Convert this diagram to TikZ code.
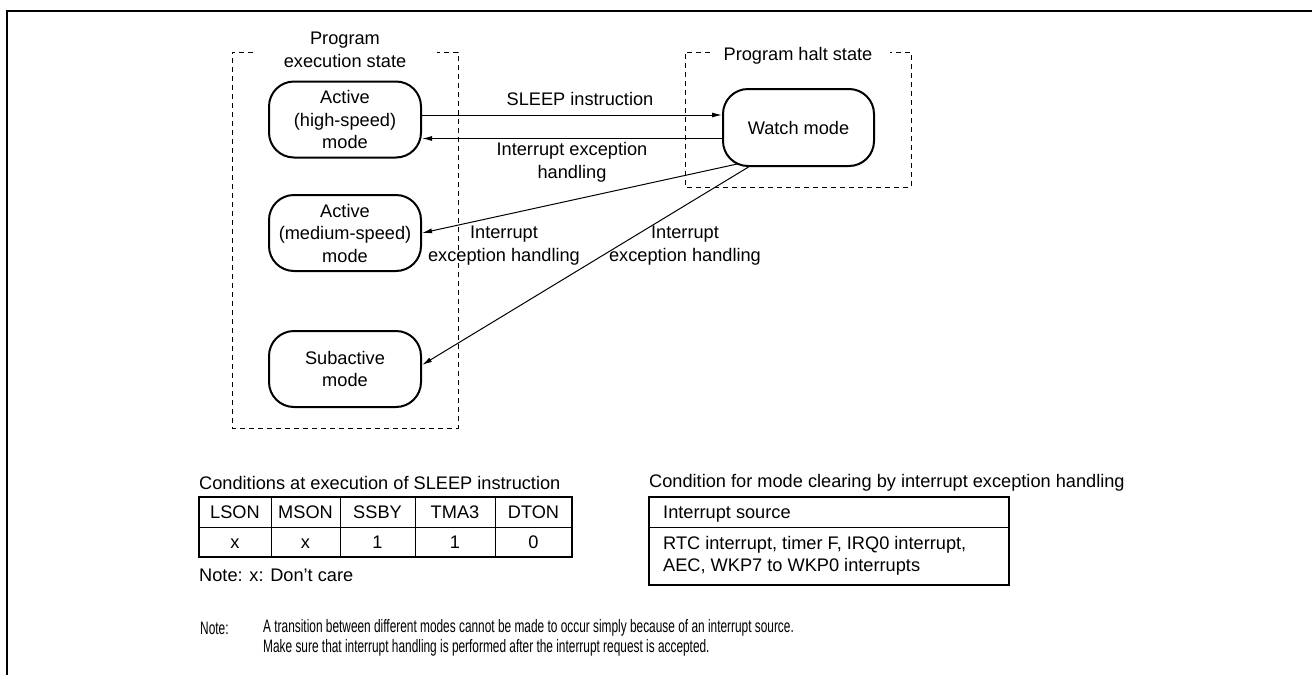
\documentclass[tikz,border=0pt]{standalone}
\usepackage{fontspec}
\setmainfont{Liberation Sans}
\newfontfamily\notefont[FakeStretch=0.66]{Liberation Sans}
\usetikzlibrary{arrows.meta}

\tikzset{
  mode/.style={draw, line width=2pt, rounded corners=25pt, minimum width=152pt,
    minimum height=76pt, align=center, inner sep=0pt},
  zone/.style={line width=1pt, dash pattern=on 5pt off 4pt},
  arr/.style={line width=1pt, -{Latex[length=10pt,width=5pt]}},
  lbl/.style={align=center, inner sep=0pt},
  cell/.style={inner sep=0pt, text height=13pt, text depth=0pt},
}

\begin{document}
\begin{tikzpicture}[x=1pt,y=-1pt,font=\fontsize{18.2}{22.5}\selectfont]
\useasboundingbox (0,0) rectangle (1312,675);

% outer frame
\draw[line width=2.5pt] (7,675) -- (7,11) -- (1312,11);

% state zones
\draw[zone] (253,52) -- (232,52) -- (232,428) -- (458,428) -- (458,52) -- (437,52);
\draw[zone] (710,52) -- (685,52) -- (685,187) -- (911,187) -- (911,52) -- (890,52);
\node[lbl] (exec) at (345,50) {Program\\execution state};
\node[lbl] (halt) at (798,56) {Program halt state};

% modes
\node[mode] (high) at (345,119.5) {Active\\(high-speed)\\mode};
\node[mode] (medium) at (345,233) {Active\\(medium-speed)\\mode};
\node[mode] (sub) at (345,369) {Subactive\\mode};
\node[mode, minimum width=151pt, minimum height=77pt] (watch) at (798.5,127.5) {Watch mode};

% transitions
\draw[arr] ([yshift=4.5pt]high.east) -- ([yshift=4.5pt]high.east -| watch.west);
\draw[arr] ([yshift=-11pt]watch.west) -- ([yshift=-11pt]watch.west -| high.east);
\draw[arr] ([xshift=-59pt,yshift=-36pt]watch.center) -- (medium.east);
\draw[arr] ([xshift=-50pt]watch.south) -- ([yshift=4pt]sub.east);

\node[lbl] (sleep) at (580,99) {SLEEP instruction};
\node[lbl] (int1) at (572,162.5) {Interrupt exception\\handling};
\node[lbl] (int2) at (504,245.5) {Interrupt\\exception handling};
\node[lbl] (int3) at (685,245.5) {Interrupt\\exception handling};

% SLEEP conditions
\node[lbl, anchor=west] (condcap) at (199,483) {Conditions at execution of SLEEP instruction};
\draw[line width=1pt] (199,527) -- (572,527);
\foreach \xa in {271,340,415,495}
  \draw[line width=1pt] (\xa,497) -- (\xa,557);
\draw[line width=2pt] (199,497) rectangle (572,557);
\foreach \n/\xc/\hd/\vl in {1/235/LSON/x, 2/305.5/MSON/x, 3/377.5/SSBY/1, 4/455/TMA3/1, 5/533.5/DTON/0} {
  \node[cell] (hd\n) at (\xc,512) {\hd};
  \node[cell] (vl\n) at (\xc,542) {\vl};
}
\node[lbl, anchor=west] (dontcare) at (199,575) {Note: x: Don't care};

% clearing condition
\node[lbl, anchor=west] (clrcap) at (649,483) {Condition for mode clearing by interrupt exception handling};
\draw[line width=1pt] (649,527) -- (1009,527);
\draw[line width=2pt] (649,497) rectangle (1009,585);
\node[cell, anchor=west] (srchd) at (663,512) {Interrupt source};
\node[lbl, anchor=west, align=left, font=\fontsize{18.2}{21.5}\selectfont] (srcs) at (663,556)
  {RTC interrupt, timer F, IRQ0 interrupt,\\AEC, WKP7 to WKP0 interrupts};

% note
\node[lbl, anchor=west, font=\notefont\fontsize{18}{20}\selectfont] (notehd) at (200,628) {Note:};
\node[lbl, anchor=west, align=left, font=\notefont\fontsize{18}{20}\selectfont] (notetx) at (263,638)
  {A transition between different modes cannot be made to occur simply because of an interrupt source.\\
   Make sure that interrupt handling is performed after the interrupt request is accepted.};
\end{tikzpicture}
\end{document}
